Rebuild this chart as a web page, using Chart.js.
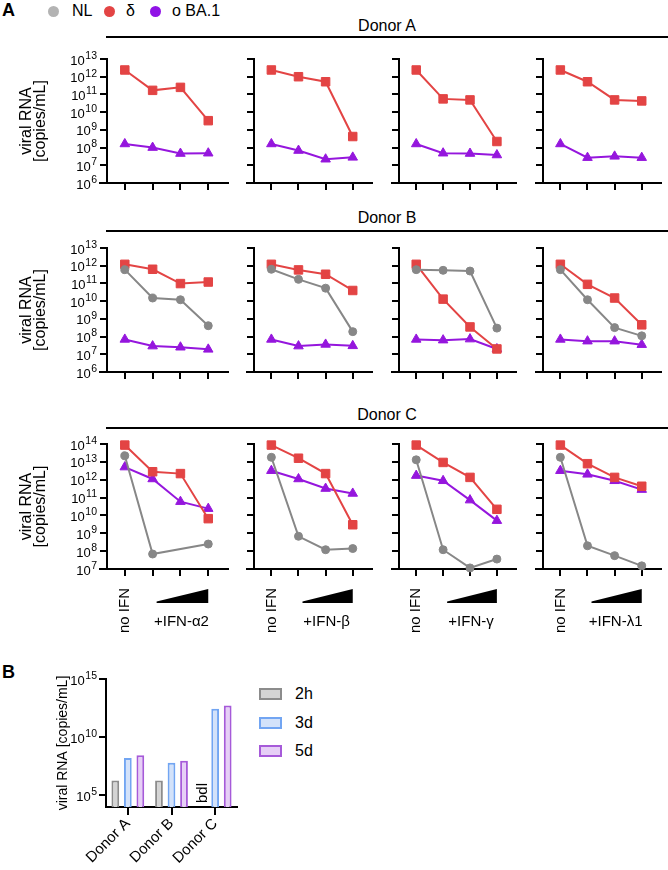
<!DOCTYPE html>
<html>
<head>
<meta charset="utf-8">
<script src="https://cdn.jsdelivr.net/npm/chart.js@4.4.1/dist/chart.umd.min.js"></script>
<style>
  html, body { margin: 0; padding: 0; background: #fff; overflow: hidden; }
  #page { position: relative; width: 668px; height: 870px; font-family: 'Liberation Sans', Arial, sans-serif; color: #000; }
  #page canvas { position: absolute; }
  .txt { position: absolute; white-space: nowrap; }
  .dot { position: absolute; width: 11px; height: 11px; border-radius: 50%; }
  .hline { position: absolute; left: 106px; width: 562px; height: 2px; background: #000; }
  .donor { position: absolute; left: 106px; width: 562px; text-align: center; font-size: 16px; line-height: 18px; }
  .box { position: absolute; left: 259px; width: 19px; height: 8px; border: 2px solid; }
</style>
</head>
<body>
<div id="page">
  <!-- panel A header + legend -->
  <div class="txt" style="left:2px;top:0px;font-size:18px;font-weight:bold;line-height:20px">A</div>
  <div class="dot" style="left:48px;top:6px;background:#b3b3b3"></div>
  <div class="txt" style="left:72px;top:2px;font-size:16px;line-height:18px">NL</div>
  <div class="dot" style="left:104px;top:6px;background:#e34444"></div>
  <div class="txt" style="left:126px;top:2px;font-size:16px;line-height:18px">δ</div>
  <div class="dot" style="left:150px;top:6px;background:#9013e6"></div>
  <div class="txt" style="left:172px;top:2px;font-size:16px;line-height:18px">o BA.1</div>

  <div class="donor" style="top:17px">Donor A</div>
  <div class="hline" style="top:36px"></div>
  <div class="donor" style="top:209px">Donor B</div>
  <div class="hline" style="top:230px"></div>
  <div class="donor" style="top:406px">Donor C</div>
  <div class="hline" style="top:427px"></div>

  <!-- panel B header + legend -->
  <div class="txt" style="left:2px;top:662px;font-size:18px;font-weight:bold;line-height:20px">B</div>
  <div class="box" style="top:688px;background:#d4d4d4;border-color:#8c8c8c"></div>
  <div class="txt" style="left:295px;top:685px;font-size:16px;line-height:18px">2h</div>
  <div class="box" style="top:717px;background:#d3e2fa;border-color:#72a5f2"></div>
  <div class="txt" style="left:295px;top:714px;font-size:16px;line-height:18px">3d</div>
  <div class="box" style="top:745px;background:#e6cff6;border-color:#a65ad9"></div>
  <div class="txt" style="left:295px;top:742px;font-size:16px;line-height:18px">5d</div>
</div>

<script>
// --- DADOS ---
const doses = [0, 1, 2, 3];
const treatments = ['+IFN-α2', '+IFN-β', '+IFN-γ', '+IFN-λ1'];

// viral RNA [copies/mL], one row per IFN (α2, β, γ, λ1), 4 doses each
const donorA_nl = [
  [null, null, null, null], [null, null, null, null], [null, null, null, null], [null, null, null, null]
];
const donorA_delta = [
  [2.4e12, 1.7e11, 2.5e11, 3.3e9],
  [2.4e12, 1.0e12, 5.2e11, 4.2e8],
  [2.4e12, 5.6e10, 4.9e10, 2.2e8],
  [2.4e12, 5.2e11, 4.9e10, 4.3e10]
];
const donorA_ba1 = [
  [1.6e8, 1.0e8, 4.6e7, 4.8e7],
  [1.6e8, 6.8e7, 2.2e7, 2.8e7],
  [1.6e8, 4.8e7, 4.6e7, 3.8e7],
  [1.6e8, 2.7e7, 3.2e7, 2.7e7]
];

const donorB_nl = [
  [6.0e11, 1.5e10, 1.2e10, 4.1e8],
  [6.3e11, 1.7e11, 5.4e10, 1.9e8],
  [6.0e11, 5.5e11, 5.0e11, 3.0e8],
  [6.0e11, 1.2e10, 3.2e8, 1.1e8]
];
const donorB_delta = [
  [1.2e12, 6.3e11, 9.8e10, 1.2e11],
  [1.2e12, 5.8e11, 3.3e11, 4.0e10],
  [1.2e12, 1.3e10, 3.5e8, 2.0e7],
  [1.2e12, 8.9e10, 1.5e10, 4.6e8]
];
const donorB_ba1 = [
  [6.9e7, 2.9e7, 2.5e7, 1.9e7],
  [6.9e7, 2.9e7, 3.6e7, 3.0e7],
  [6.9e7, 6.3e7, 7.2e7, 2.0e7],
  [6.9e7, 5.5e7, 5.5e7, 3.5e7]
];

const donorC_nl = [
  [2.2e13, 6.9e7, null, 2.5e8],
  [1.8e13, 6.8e8, 1.2e8, 1.4e8],
  [1.3e13, 1.2e8, 1.15e7, 3.6e7],
  [1.8e13, 2.0e8, 5.6e7, 1.5e7]
];
const donorC_delta = [
  [8.7e13, 2.8e12, 2.2e12, 6.6e9],
  [8.7e13, 1.6e13, 2.2e12, 3.0e9],
  [8.7e13, 9.3e12, 1.35e12, 2.2e10],
  [8.7e13, 7.9e12, 1.35e12, 4.3e11]
];
const donorC_ba1 = [
  [5.1e12, 1.1e12, 5.9e10, 2.4e10],
  [3.2e12, 1.1e12, 3.2e11, 1.7e11],
  [1.7e12, 8.7e11, 7.2e10, 5.1e9],
  [3.2e12, 2.0e12, 8.7e11, 2.8e11]
];

const yExpA = [6, 7, 8, 9, 10, 11, 12, 13];
const yExpB = [6, 7, 8, 9, 10, 11, 12, 13];
const yExpC = [7, 8, 9, 10, 11, 12, 13, 14];

// panel B
const bDonors = ['Donor A', 'Donor B', 'Donor C'];
const rna2h = [1.9e6, 1.9e6, null];
const rna3d = [1.6e8, 6.2e7, 2.8e12];
const rna5d = [2.8e8, 9.3e7, 5.2e12];
const yExpBars = [5, 10, 15];

// --- LAYOUT ---
const FONT = "'Liberation Sans', Arial, sans-serif";
Chart.defaults.font.family = FONT;
Chart.defaults.color = '#000';

const ROWS = [{ top: 59, bottom: 183 }, { top: 248, bottom: 372 }, { top: 444, bottom: 569 }];
const COLS = [{ left: 107, width: 126 }, { left: 254, width: 123 }, { left: 399, width: 122 }, { left: 543, width: 123 }];

const donorsData = [
  { nl: donorA_nl, delta: donorA_delta, ba1: donorA_ba1, exps: yExpA },
  { nl: donorB_nl, delta: donorB_delta, ba1: donorB_ba1, exps: yExpB },
  { nl: donorC_nl, delta: donorC_delta, ba1: donorC_ba1, exps: yExpC }
];

const axisLine = { display: true, color: '#000', width: 2 };
const tickGrid = { display: true, drawOnChartArea: false, drawTicks: true, tickLength: 7, color: '#000', lineWidth: 2 };

// y tick labels as 10 + superscript exponent
const powLabels = {
  id: 'powLabels',
  afterDraw(chart, args, opts) {
    if (!opts.show) return;
    const { ctx } = chart;
    const ys = chart.scales.y;
    const xr = ys.right - opts.gap;
    ctx.save();
    ctx.fillStyle = '#000';
    ctx.textBaseline = 'middle';
    ctx.textAlign = 'right';
    ys.ticks.forEach(t => {
      const py = ys.getPixelForValue(t.value);
      const e = String(Math.round(Math.log10(t.value)));
      ctx.font = opts.sup + 'px ' + FONT;
      const we = ctx.measureText(e).width;
      ctx.fillText(e, xr, py - 3);
      ctx.font = opts.size + 'px ' + FONT;
      ctx.fillText('10', xr - we - 0.5, py + 2);
    });
    ctx.restore();
  }
};

// x axis line runs a bit past the y axis
const axisExt = {
  id: 'axisExt',
  afterDraw(chart) {
    const { ctx, chartArea } = chart;
    ctx.save();
    ctx.strokeStyle = '#000';
    ctx.lineWidth = 2;
    ctx.beginPath();
    ctx.moveTo(chartArea.left - 8, chartArea.bottom);
    ctx.lineTo(chartArea.left, chartArea.bottom);
    ctx.stroke();
    ctx.restore();
  }
};

// "no IFN" + dose wedge + treatment name under the bottom row
const doseLabels = {
  id: 'doseLabels',
  afterDraw(chart, args, opts) {
    if (!opts.text) return;
    const { ctx, chartArea, scales: { x } } = chart;
    const b = chartArea.bottom;
    ctx.save();
    ctx.fillStyle = '#000';
    ctx.font = '15px ' + FONT;
    ctx.save();
    ctx.translate(x.getPixelForValue(0), b + 19);
    ctx.rotate(-Math.PI / 2);
    ctx.textAlign = 'right';
    ctx.textBaseline = 'middle';
    ctx.fillText('no IFN', 0, 0);
    ctx.restore();

    const x1 = x.getPixelForValue(1) + 4;
    const x3 = x.getPixelForValue(3);
    ctx.beginPath();
    ctx.moveTo(x1, b + 34);
    ctx.lineTo(x1, b + 32.5);
    ctx.lineTo(x3, b + 20);
    ctx.lineTo(x3, b + 34);
    ctx.closePath();
    ctx.fill();

    ctx.font = '15px ' + FONT;
    ctx.textAlign = 'center';
    ctx.textBaseline = 'middle';
    ctx.fillText(opts.text, x.getPixelForValue(2) + 1, b + 53);
    ctx.restore();
  }
};

const page = document.getElementById('page');

function addCanvas(left, top, w, h) {
  const cv = document.createElement('canvas');
  cv.width = w;
  cv.height = h;
  cv.style.left = left + 'px';
  cv.style.top = top + 'px';
  cv.style.width = w + 'px';
  cv.style.height = h + 'px';
  page.appendChild(cv);
  return cv;
}

function serie(vals, color, style, radius) {
  return {
    data: doses.map((d, i) => ({ x: d, y: vals[i] })),
    borderColor: color,
    backgroundColor: color,
    borderWidth: 2,
    pointStyle: style,
    pointRadius: radius,
    pointBorderWidth: 1,
    pointBorderColor: color,
    pointBackgroundColor: color,
    spanGaps: true,
    clip: false
  };
}

function makePanel(r, c) {
  const first = c === 0;
  const yW = first ? COLS[c].left : 14;
  const xH = r === 2 ? 72 : 14;
  const left = COLS[c].left - yW;
  const top = ROWS[r].top - 12;
  const w = yW + COLS[c].width + 2;
  const h = 12 + (ROWS[r].bottom - ROWS[r].top) + xH;
  const d = donorsData[r];
  const exps = d.exps;

  new Chart(addCanvas(left, top, w, h), {
    type: 'line',
    data: {
      datasets: [
        serie(d.nl[c], '#878787', 'circle', 4),
        serie(d.delta[c], '#e34444', 'rect', 6),
        serie(d.ba1[c], '#9516dd', 'triangle', 5.5)
      ]
    },
    options: {
      responsive: false,
      animation: false,
      devicePixelRatio: 1,
      layout: { padding: { top: 12, right: 2, left: 0, bottom: 0 } },
      plugins: {
        legend: { display: false },
        tooltip: { enabled: false },
        doseLabels: { text: r === 2 ? treatments[c] : null },
        powLabels: { show: first, gap: 10, size: 13, sup: 10.5 }
      },
      scales: {
        x: {
          type: 'linear',
          min: -0.64,
          max: 3.71,
          afterBuildTicks: s => { s.ticks = doses.map(v => ({ value: v })); },
          afterFit: s => { s.height = xH; },
          ticks: { display: false },
          grid: tickGrid,
          border: axisLine
        },
        y: {
          type: 'logarithmic',
          min: Math.pow(10, exps[0]),
          max: Math.pow(10, exps[exps.length - 1]),
          afterBuildTicks: s => { s.ticks = exps.map(e => ({ value: Math.pow(10, e) })); },
          afterFit: s => { s.width = yW; },
          ticks: { display: false },
          grid: tickGrid,
          border: axisLine,
          title: {
            display: first,
            text: ['viral RNA', '[copies/mL]'],
            font: { size: 16, lineHeight: 0.9 },
            color: '#000',
            padding: { top: 19, bottom: 0 }
          }
        }
      }
    },
    plugins: [axisExt, doseLabels, powLabels]
  });
}

for (let r = 0; r < 3; r++) {
  for (let c = 0; c < 4; c++) makePanel(r, c);
}

// --- PANEL B ---
const bdlLabel = {
  id: 'bdlLabel',
  afterDraw(chart) {
    const { ctx, chartArea } = chart;
    const bar = chart.getDatasetMeta(0).data[2];
    const xs = chart.scales.x;
    const x = bar && isFinite(bar.x) ? bar.x : xs.getPixelForValue(2) - 12.5;
    ctx.save();
    ctx.fillStyle = '#000';
    ctx.font = '15px ' + FONT;
    ctx.translate(x, chartArea.bottom - 4);
    ctx.rotate(-Math.PI / 2);
    ctx.textAlign = 'left';
    ctx.textBaseline = 'middle';
    ctx.fillText('bdl', 0, 0);
    ctx.restore();
  }
};

new Chart(addCanvas(0, 665, 245, 205), {
  type: 'bar',
  data: {
    labels: bDonors,
    datasets: [
      { label: '2h', data: rna2h, backgroundColor: '#d4d4d4', borderColor: '#8c8c8c', borderWidth: 2 },
      { label: '3d', data: rna3d, backgroundColor: '#d3e2fa', borderColor: '#72a5f2', borderWidth: 2 },
      { label: '5d', data: rna5d, backgroundColor: '#e6cff6', borderColor: '#a65ad9', borderWidth: 2 }
    ]
  },
  options: {
    responsive: false,
    animation: false,
    devicePixelRatio: 1,
    layout: { padding: { top: 14, right: 8, left: 0, bottom: 0 } },
    datasets: { bar: { categoryPercentage: 0.86, barPercentage: 0.62 } },
    plugins: {
      legend: { display: false },
      tooltip: { enabled: false },
      powLabels: { show: true, gap: 9, size: 13, sup: 10.5 }
    },
    scales: {
      x: {
        afterFit: s => { s.height = 63; },
        ticks: { minRotation: 45, maxRotation: 45, padding: 0, font: { size: 15 }, color: '#000' },
        grid: { display: true, drawOnChartArea: false, drawTicks: true, tickLength: 8, color: '#000', lineWidth: 2, offset: false },
        border: axisLine
      },
      y: {
        type: 'logarithmic',
        min: 1e4,
        max: 1e15,
        afterBuildTicks: s => { s.ticks = yExpBars.map(e => ({ value: Math.pow(10, e) })); },
        afterFit: s => { s.width = 106; },
        ticks: { display: false },
        grid: tickGrid,
        border: axisLine,
        title: {
          display: true,
          text: 'viral RNA [copies/mL]',
          font: { size: 14 },
          color: '#000',
          padding: { top: 55, bottom: 0 }
        }
      }
    }
  },
  plugins: [bdlLabel, powLabels]
});
</script>
</body>
</html>
